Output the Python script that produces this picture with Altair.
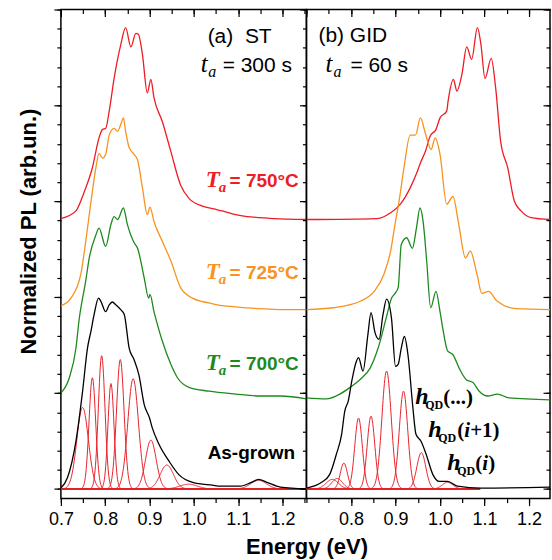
import altair as alt
import numpy as np
import pandas as pd

# ---------------- data ----------------
# (a) ST, t_a = 300 s
A750_E = [0.700,0.734,0.752,0.771,0.786,0.794,0.801,0.809,0.820,0.835,0.846,0.858,0.869,0.875,0.884,0.895,0.903,0.910,0.929,0.948,0.970,0.989,1.019,1.045,1.064,1.094,1.120,1.150,1.180,1.254]
A750_I = [2.82,2.90,3.09,3.35,3.66,3.75,3.76,3.94,4.28,4.63,4.81,4.61,4.75,4.74,4.53,4.13,4.27,4.08,3.83,3.52,3.17,3.03,2.95,2.92,2.90,2.86,2.84,2.83,2.82,2.81]
A725_E = [0.700,0.7225,0.745,0.756,0.768,0.779,0.786,0.794,0.801,0.809,0.820,0.828,0.835,0.841,0.846,0.854,0.865,0.873,0.884,0.895,0.901,0.910,0.929,0.948,0.970,0.997,1.034,1.053,1.094,1.150,1.200,1.254]
A725_I = [1.91,1.99,2.24,2.58,3.00,3.35,3.50,3.45,3.49,3.69,3.76,3.73,3.80,3.87,3.73,3.56,3.49,3.43,3.14,2.86,2.94,2.79,2.58,2.38,2.10,1.99,1.94,1.92,1.90,1.88,1.87,1.87]
A700_E = [0.700,0.719,0.734,0.741,0.756,0.764,0.779,0.786,0.801,0.813,0.820,0.828,0.841,0.850,0.865,0.873,0.888,0.898,0.901,0.910,0.914,0.929,0.948,0.963,0.989,1.034,1.094,1.150,1.195,1.254]
A700_I = [1.00,1.16,1.47,1.76,2.17,2.41,2.65,2.72,2.53,2.76,2.84,2.81,2.93,2.76,2.57,2.51,2.20,1.99,2.03,1.85,1.78,1.54,1.30,1.16,1.06,1.02,0.99,0.97,0.97,0.94]
A0_E = [0.700,0.715,0.734,0.749,0.760,0.768,0.775,0.785,0.790,0.801,0.809,0.816,0.824,0.835,0.843,0.854,0.865,0.876,0.888,0.900,0.906,0.921,0.944,0.966,0.997,1.042,1.060,1.105,1.130,1.146,1.165,1.195,1.254]
A0_I = [0.01,0.12,0.50,1.02,1.47,1.65,1.82,1.99,1.96,1.85,1.92,1.95,1.92,1.87,1.82,1.47,1.35,1.19,0.88,0.74,0.64,0.47,0.29,0.15,0.07,0.04,0.03,0.03,0.07,0.10,0.07,0.02,0.00]
# Gaussian components of the as-grown spectrum (centre, height, sigma)
AF_C = [0.749,0.771,0.792,0.813,0.834,0.863,0.903,0.939,0.988,1.146]
AF_H = [0.85,1.16,1.39,1.10,1.35,1.15,0.51,0.25,0.05,0.09]
AF_S = [0.013,0.0075,0.0075,0.0068,0.0085,0.012,0.012,0.015,0.020,0.018]

# (b) GID, t_a = 60 s
B750_E = [0.700,0.859,0.889,0.911,0.933,0.949,0.956,0.967,0.978,0.991,1.000,1.015,1.018,1.030,1.038,1.049,1.060,1.071,1.084,1.092,1.101,1.115,1.125,1.136,1.152,1.167,1.182,1.204,1.247]
B750_I = [2.81,2.82,2.88,2.97,3.14,3.31,3.40,3.52,3.68,3.75,3.87,3.94,4.04,4.27,4.15,4.32,4.61,4.48,4.81,4.63,4.28,4.49,4.18,3.63,3.35,3.00,2.90,2.83,2.81]
B725_E = [0.700,0.761,0.822,0.852,0.874,0.889,0.900,0.908,0.919,0.933,0.945,0.956,0.967,0.980,0.989,1.000,1.015,1.029,1.042,1.057,1.068,1.083,1.094,1.109,1.128,1.171,1.247]
B725_I = [1.87,1.89,1.96,2.06,2.24,2.48,2.79,3.00,3.35,3.69,3.69,3.87,3.71,3.54,3.66,3.49,2.97,3.05,2.76,2.41,2.48,2.24,2.04,2.06,1.96,1.88,1.87]
B700_E = [0.700,0.745,0.775,0.798,0.820,0.843,0.861,0.880,0.891,0.899,0.906,0.913,0.925,0.938,0.947,0.955,0.962,0.970,0.979,0.991,1.000,1.006,1.017,1.029,1.044,1.059,1.074,1.088,1.107,1.129,1.155,1.247]
B700_I = [0.95,0.94,0.99,1.06,1.14,1.26,1.47,1.80,1.99,2.04,2.10,2.55,2.62,2.51,2.72,2.93,2.79,2.38,1.89,2.06,1.85,1.68,1.44,1.40,1.25,1.14,1.11,1.02,0.97,0.99,0.95,0.93]
B0_E = [0.700,0.734,0.752,0.767,0.779,0.786,0.794,0.802,0.812,0.817,0.827,0.838,0.845,0.854,0.863,0.872,0.880,0.891,0.900,0.906,0.913,0.920,0.928,0.939,0.946,0.957,0.969,0.984,0.998,1.017,1.039,1.092,1.247]
B0_I = [0.01,0.07,0.15,0.36,0.57,0.81,0.92,1.13,1.33,1.37,1.23,1.61,1.84,1.63,1.56,1.82,1.98,1.78,1.28,1.30,1.47,1.59,1.40,0.85,0.57,0.50,0.36,0.15,0.08,0.08,0.03,0.01,0.02]
BF_C = [0.758,0.769,0.784,0.817,0.845,0.880,0.918,0.958,1.017]
BF_H = [0.10,0.11,0.27,0.74,0.76,1.23,1.02,0.38,0.07]
BF_S = [0.014,0.012,0.008,0.0085,0.0085,0.0105,0.0095,0.010,0.012]

SERIES = ["750", "725", "700", "as-grown"]
COLORS = ["#ee1c24", "#f7931e", "#1e8a1e", "#000000"]
FIT_COLOR = "#e8222a"

X_MAJOR = [0.7, 0.8, 0.9, 1.0, 1.1, 1.2]
X_MINOR = [0.7, 0.75, 0.8, 0.85, 0.9, 0.95, 1.0, 1.05, 1.1, 1.15, 1.2, 1.25]
Y_MAJOR = [0, 1, 2, 3, 4, 5]
Y_MINOR = [round(0.2 * k, 1) for k in range(26)]

# annotations: (text, x, y, style, colour)
A_TEXT = [
    ("(a)\u00a0\u00a0ST", 1.0311, 4.646, "sans", "#000000"),
    ("t", 1.0153, 4.344, "serif_i", "#000000"),
    ("a", 1.0322, 4.292, "serif_i_sub", "#000000"),
    ("= 300 s", 1.0649, 4.344, "sans", "#000000"),
    ("T", 1.0266, 3.147, "serif_bi", COLORS[0]),
    ("a", 1.0559, 3.095, "serif_bi_sub", COLORS[0]),
    ("= 750°C", 1.0806, 3.147, "sansb", COLORS[0]),
    ("T", 1.0266, 2.190, "serif_bi", COLORS[1]),
    ("a", 1.0559, 2.138, "serif_bi_sub", COLORS[1]),
    ("= 725°C", 1.0806, 2.190, "sansb", COLORS[1]),
    ("T", 1.0266, 1.243, "serif_bi", COLORS[2]),
    ("a", 1.0559, 1.191, "serif_bi_sub", COLORS[2]),
    ("= 700°C", 1.0806, 1.243, "sansb", COLORS[2]),
    ("As-grown", 1.0311, 0.316, "sansb", "#000000"),
]
B_TEXT = [
    ("(b) GID", 0.7269, 4.657, "sans", "#000000"),
    ("t", 0.7426, 4.344, "serif_i", "#000000"),
    ("a", 0.7605, 4.292, "serif_i_sub", "#000000"),
    ("= 60 s", 0.7987, 4.344, "sans", "#000000"),
    ("h", 0.9444, 0.889, "serif_bi_h", "#000000"),
    ("QD", 0.9668, 0.837, "serif_b_sub", "#000000"),
    ("(...)", 1.0072, 0.889, "serif_b", "#000000"),
    ("h", 0.9735, 0.545, "serif_bi_h", "#000000"),
    ("QD", 0.9960, 0.493, "serif_b_sub", "#000000"),
    ("(", 1.0386, 0.545, "serif_b", "#000000"),
    ("i", 1.0543, 0.545, "serif_bi_p", "#000000"),
    ("+1)", 1.0677, 0.545, "serif_b", "#000000"),
    ("h", 1.0161, 0.202, "serif_bi_h", "#000000"),
    ("QD", 1.0386, 0.150, "serif_b_sub", "#000000"),
    ("(", 1.0789, 0.202, "serif_b", "#000000"),
    ("i", 1.0946, 0.202, "serif_bi_p", "#000000"),
    (")", 1.1081, 0.202, "serif_b", "#000000"),
]

STYLES = {
    "sans": dict(font="Liberation Sans", fontSize=21),
    "sansb": dict(font="Liberation Sans", fontSize=19, fontWeight="bold"),
    "serif_i": dict(font="Liberation Serif", fontSize=25, fontStyle="italic"),
    "serif_i_sub": dict(font="Liberation Serif", fontSize=16, fontStyle="italic"),
    "serif_bi": dict(font="Liberation Serif", fontSize=23, fontStyle="italic", fontWeight="bold"),
    "serif_bi_sub": dict(font="Liberation Serif", fontSize=15, fontStyle="italic", fontWeight="bold"),
    "serif_bi_h": dict(font="Liberation Serif", fontSize=24, fontStyle="italic", fontWeight="bold"),
    "serif_bi_p": dict(font="Liberation Serif", fontSize=21, fontStyle="italic", fontWeight="bold"),
    "serif_b": dict(font="Liberation Serif", fontSize=21, fontWeight="bold"),
    "serif_b_sub": dict(font="Liberation Serif", fontSize=12, fontWeight="bold"),
}


def curves_df(pairs):
    rows = []
    for name, E, I in pairs:
        for e, i in zip(E, I):
            rows.append({"series": name, "E": e, "I": i})
    return pd.DataFrame(rows)


def fits_df(C, H, S, emax):
    grid = np.round(np.arange(0.7, emax + 1e-9, 0.001), 4)
    rows = []
    for k, (c, h, s) in enumerate(zip(C, H, S)):
        v = h * np.exp(-0.5 * ((grid - c) / s) ** 2)
        for e, y in zip(grid, v):
            rows.append({"comp": k, "E": float(e), "I": float(y)})
    return pd.DataFrame(rows)


def axis(orient, values, size, offset=0, **kw):
    return alt.Axis(orient=orient, values=values, tickSize=size, offset=offset,
                    domain=False, grid=False, ticks=True, tickColor="black",
                    tickWidth=1.2, **kw)


def panel(curves, fits, texts, xdomain, width, left):
    xs = alt.Scale(domain=xdomain, nice=False, zero=False)
    ys = alt.Scale(domain=[-0.1, 5.0], nice=False, zero=False)

    lab = dict(labels=True, format=".1f", labelFont="Liberation Sans", labelFontSize=18,
               labelColor="black", labelPadding=5, labelFlush=False, labelOverlap=False)
    if left:
        xb = axis("bottom", X_MAJOR, 7, title="Energy (eV)", titleFont="Liberation Sans",
                  titleFontSize=22, titleFontWeight="bold", titleColor="black",
                  titleX=width, titlePadding=8, **lab)
        yl = axis("left", Y_MAJOR, 7, labels=False, title="Normalized PL (arb.un.)",
                  titleFont="Liberation Sans", titleFontSize=22, titleFontWeight="bold",
                  titleColor="black", titlePadding=13, titleY=222)
    else:
        xb = axis("bottom", X_MAJOR[1:], 7, title=None, **lab)
        yl = axis("left", Y_MAJOR, 7, labels=False, title=None)

    fit = alt.Chart(fits).mark_line(color=FIT_COLOR, strokeWidth=1.0, clip=True).encode(
        x=alt.X("E:Q", scale=xs, axis=xb),
        y=alt.Y("I:Q", scale=ys, axis=yl),
        detail="comp:N",
    )
    lines = alt.Chart(curves).mark_line(strokeWidth=1.3, interpolate="monotone", clip=True).encode(
        x=alt.X("E:Q", scale=xs, axis=axis("bottom", X_MINOR, 4, labels=False, title=None)),
        y=alt.Y("I:Q", scale=ys, axis=axis("left", Y_MINOR, 4, labels=False, title=None)),
        color=alt.Color("series:N", scale=alt.Scale(domain=SERIES, range=COLORS), legend=None),
        order=alt.Order("E:Q"),
    )
    top_major = alt.Chart(curves).mark_point(opacity=0, size=1).encode(
        x=alt.X("E:Q", scale=xs, axis=axis("top", X_MAJOR, 7, offset=-7, labels=False, title=None)),
        y=alt.Y("I:Q", scale=ys, axis=(axis("right", Y_MAJOR, 7, offset=-7, labels=False, title=None) if not left else None)),
    )
    top_minor = alt.Chart(curves).mark_point(opacity=0, size=1).encode(
        x=alt.X("E:Q", scale=xs, axis=axis("top", X_MINOR, 4, offset=-4, labels=False, title=None)),
        y=alt.Y("I:Q", scale=ys, axis=(axis("right", Y_MINOR, 4, offset=-4, labels=False, title=None) if not left else None)),
    )
    tdf = pd.DataFrame(texts, columns=["text", "x", "y", "style", "color"])
    text_layers = []
    for st, props in STYLES.items():
        sub = tdf[tdf["style"] == st]
        if len(sub) == 0:
            continue
        text_layers.append(
            alt.Chart(sub).mark_text(align="left", baseline="alphabetic", **props).encode(
                x=alt.X("x:Q", scale=xs, axis=None),
                y=alt.Y("y:Q", scale=ys, axis=None),
                text="text:N",
                color=alt.Color("color:N", scale=None),
            )
        )
    return alt.layer(fit, lines, top_major, top_minor, *text_layers).resolve_axis(
        x="independent", y="independent"
    ).properties(width=width, height=490)


left = panel(
    curves_df([("750", A750_E, A750_I), ("725", A725_E, A725_I), ("700", A700_E, A700_I), ("as-grown", A0_E, A0_I)]),
    fits_df(AF_C, AF_H, AF_S, 1.254), A_TEXT, [0.7, 1.254], 246, True)
right = panel(
    curves_df([("750", B750_E, B750_I), ("725", B725_E, B725_I), ("700", B700_E, B700_I), ("as-grown", B0_E, B0_I)]),
    fits_df(BF_C, BF_H, BF_S, 1.09), B_TEXT, [0.7, 1.247], 244, False)

chart = alt.hconcat(left, right, spacing=0, bounds="flush").properties(
    padding={"left": 16, "top": 7, "right": 0, "bottom": 0},
    background="white",
).configure_view(stroke="black", strokeWidth=1.5)

chart.save("out.html", embed_options={"renderer": "svg", "actions": False})
